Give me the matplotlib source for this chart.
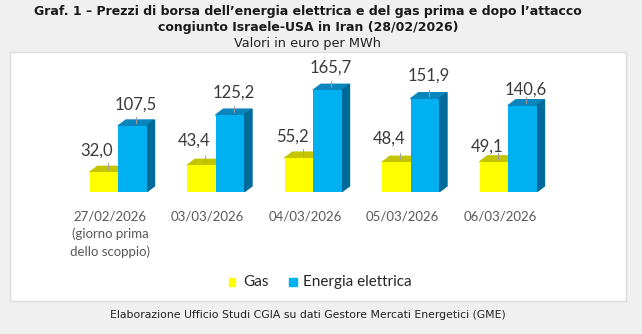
import matplotlib.pyplot as plt
from matplotlib.patches import Polygon, Rectangle
import numpy as np

dates = ['27/02/2026\n(giorno prima\ndello scoppio)', '03/03/2026', '04/03/2026',
         '05/03/2026', '06/03/2026']
gas = [32.0, 43.4, 55.2, 48.4, 49.1]
energia = [107.5, 125.2, 165.7, 151.9, 140.6]

# label heights above each bar front, in pixels (labels were nudged by hand)
gas_lab_px = [22, 25, 21, 24, 15]
en_lab_px = [21, 23, 23, 23, 16]

W, H = 642, 334
fig = plt.figure(figsize=(W / 100, H / 100), dpi=100)
fig.patch.set_facecolor('#f0f0f0')

# white chart panel
fig.patches.append(Rectangle((10 / W, 1 - 301 / H), 616 / W, 249 / H,
                             transform=fig.transFigure, facecolor='white',
                             edgecolor='#dcdcdc', lw=1.0, zorder=-5))

cx = 308 / W
fig.text(cx, 1 - 11 / H, 'Graf. 1 – Prezzi di borsa dell’energia elettrica e del gas prima e dopo l’attacco',
         ha='center', va='center', fontsize=9.0, fontweight='bold', color='#1a1a1a')
fig.text(cx, 1 - 27 / H, 'congiunto Israele-USA in Iran (28/02/2026)',
         ha='center', va='center', fontsize=9.0, fontweight='bold', color='#1a1a1a')
fig.text(cx, 1 - 44 / H, 'Valori in euro per MWh', ha='center', va='center',
         fontsize=9.3, color='#222222')
fig.text(cx, 1 - 315 / H,
         'Elaborazione Ufficio Studi CGIA su dati Gestore Mercati Energetici (GME)',
         ha='center', va='center', fontsize=7.8, color='#222222')

# axes: 97.5 px per category, 0.614 px per euro
px_x = 97.5
px_y = 0.614
ax_bottom, ax_top = 192, 50
ax = fig.add_axes([(118 - px_x) / W, 1 - ax_bottom / H, 6.1 * px_x / W,
                   (ax_bottom - ax_top) / H])
ax.set_xlim(-1, 5.1)
ax.set_ylim(0, (ax_bottom - ax_top) / px_y)
ax.axis('off')

x = np.arange(len(dates))
w = 28.5 / px_x
dx = 8 / px_x
dy = 6 / px_y

gas_front, gas_top = '#ffff00', '#c4c400'
en_front, en_top, en_side = '#00b0f0', '#0a86bd', '#006b9a'
lab_col = '#3a3a3a'

ax.bar(x - w / 2, gas, w, color=gas_front, zorder=2)
ax.bar(x + w / 2, energia, w, color=en_front, zorder=4)

for i in range(len(x)):
    g, e = gas[i], energia[i]
    xl = x[i] - w
    ax.add_patch(Polygon([(xl, g), (xl + dx, g + dy), (x[i] + dx, g + dy), (x[i], g)],
                         closed=True, color=gas_top, zorder=1))
    ax.add_patch(Polygon([(x[i], e), (x[i] + dx, e + dy), (x[i] + w + dx, e + dy), (x[i] + w, e)],
                         closed=True, color=en_top, zorder=3))
    ax.add_patch(Polygon([(x[i] + w, 0), (x[i] + w + dx, dy), (x[i] + w + dx, e + dy), (x[i] + w, e)],
                         closed=True, color=en_side, zorder=3))

    # value labels with short leader lines
    gy = g + gas_lab_px[i] / px_y
    gx = x[i] - w / 2 - 0.07
    ax.text(gx, gy, f'{g:.1f}'.replace('.', ','), ha='center', va='center',
            fontsize=12, family='Lato', color=lab_col)
    ax.plot([x[i] - w / 2 + dx / 2] * 2, [g + dy * 0.5, g + dy + 3 / px_y],
            color='#a0a0a0', lw=0.7, zorder=5)
    ey = e + en_lab_px[i] / px_y
    ex = x[i] + w / 2 + 0.04
    ax.text(ex, ey, f'{e:.1f}'.replace('.', ','), ha='center', va='center',
            fontsize=12, family='Lato', color=lab_col)
    ax.plot([x[i] + w / 2 + dx / 2] * 2, [e + dy * 0.5, e + dy + 3 / px_y],
            color='#a0a0a0', lw=0.7, zorder=5)

    ax.text(x[i] - 0.08, -18.5 / px_y, dates[i], ha='center', va='top',
            fontsize=9.5, family='Lato', color='#595959', linespacing=1.5)

# legend
fig.patches.append(Rectangle((229 / W, 1 - 286 / H), 6 / W, 8 / H,
                             transform=fig.transFigure, color=gas_front))
fig.text(243 / W, 1 - 282 / H, 'Gas', ha='left', va='center', fontsize=11,
         family='Lato', color='#262626')
fig.patches.append(Rectangle((289 / W, 1 - 286 / H), 8 / W, 8 / H,
                             transform=fig.transFigure, color=en_front))
fig.text(303 / W, 1 - 282 / H, 'Energia elettrica', ha='left', va='center',
         fontsize=11, family='Lato', color='#262626')

fig.savefig('out.png', dpi=100, facecolor=fig.get_facecolor())
